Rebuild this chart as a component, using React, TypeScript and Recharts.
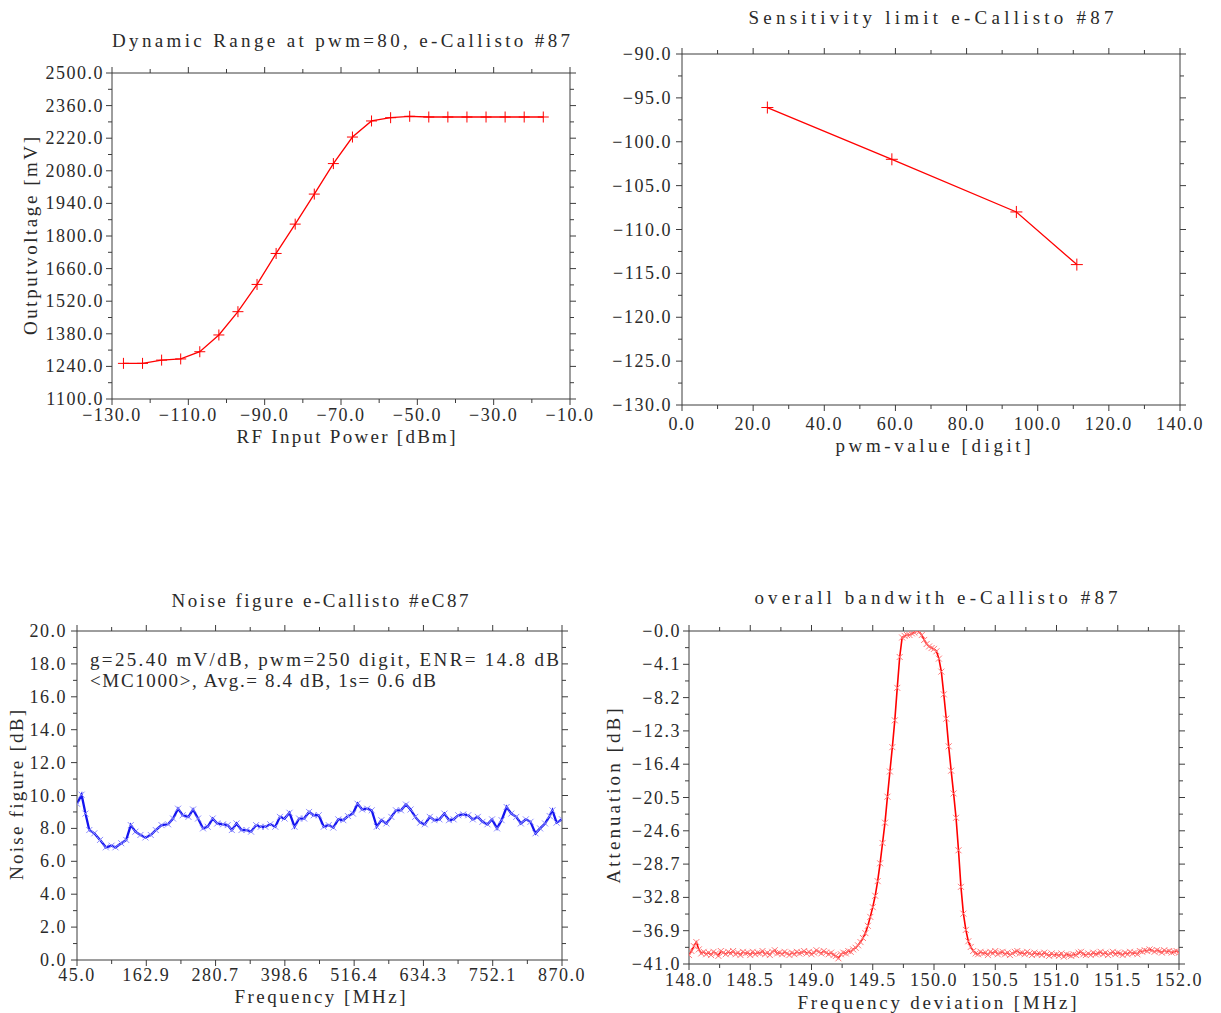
import React from 'react';
import { LineChart, Line, XAxis, YAxis } from 'recharts';

const FONT = '"Liberation Serif", "Times New Roman", serif';
const AXIS = '#3c3c3c';
const TXT = '#2a2a2a';

// ---------- Panel 1: Dynamic range ----------
const dynPower = [-127, -122, -117, -112, -107, -102, -97, -92, -87, -82, -77, -72, -67, -62, -57, -52, -47, -42, -37, -32, -27, -22, -17];
const dynVoltage = [1253, 1253, 1267, 1272, 1303, 1375, 1475, 1592, 1725, 1851, 1980, 2111, 2225, 2294, 2308, 2314, 2311, 2311, 2311, 2311, 2311, 2311, 2311];
const dynXTicks = [-130, -110, -90, -70, -50, -30, -10];
const dynXLabels = ['−130.0', '−110.0', '−90.0', '−70.0', '−50.0', '−30.0', '−10.0'];
const dynXMinor = [-120, -100, -80, -60, -40, -20];
const dynYTicks = [1100, 1240, 1380, 1520, 1660, 1800, 1940, 2080, 2220, 2360, 2500];
const dynYLabels = ['1100.0', '1240.0', '1380.0', '1520.0', '1660.0', '1800.0', '1940.0', '2080.0', '2220.0', '2360.0', '2500.0'];
const dynYMinor = [1170, 1310, 1450, 1590, 1730, 1870, 2010, 2150, 2290, 2430];

// ---------- Panel 2: Sensitivity ----------
const sensPwm = [24, 59, 94, 111];
const sensLimit = [-96.1, -102.0, -108.0, -114.0];
const sensXTicks = [0, 20, 40, 60, 80, 100, 120, 140];
const sensXLabels = ['0.0', '20.0', '40.0', '60.0', '80.0', '100.0', '120.0', '140.0'];
const sensXMinor = [10, 30, 50, 70, 90, 110, 130];
const sensYTicks = [-130, -125, -120, -115, -110, -105, -100, -95, -90];
const sensYLabels = ['−130.0', '−125.0', '−120.0', '−115.0', '−110.0', '−105.0', '−100.0', '−95.0', '−90.0'];
const sensYMinor = [-127.5, -122.5, -117.5, -112.5, -107.5, -102.5, -97.5, -92.5];

// ---------- Panel 3: Noise figure ----------
const nfFreq = [45.0, 52.8, 59.4, 65.9, 74.4, 84.2, 94.0, 103.8, 110.4, 120.2, 128.7, 136.5, 144.4, 152.9, 161.4, 170.5, 179.0, 188.8, 199.9, 208.4, 216.9, 224.8, 234.6, 242.4, 250.9, 259.4, 267.3, 275.8, 283.6, 293.4, 301.3, 308.4, 316.3, 324.8, 333.3, 341.1, 349.6, 357.5, 365.3, 373.8, 382.3, 390.2, 398.0, 406.5, 415.0, 422.8, 431.3, 439.8, 447.7, 456.2, 464.7, 473.2, 481.0, 489.5, 498.0, 505.9, 514.4, 522.2, 530.1, 538.6, 546.4, 554.9, 562.7, 571.2, 579.7, 587.6, 596.1, 604.6, 612.4, 620.3, 628.8, 636.6, 645.1, 653.0, 661.5, 670.0, 677.8, 685.6, 693.5, 702.0, 710.5, 718.3, 726.8, 734.7, 743.2, 751.0, 759.5, 767.3, 775.8, 783.7, 792.2, 800.0, 808.5, 816.4, 824.9, 832.7, 841.2, 849.1, 853.7, 860.8, 870.0];
const nfValue = [9.5, 10.05, 8.9, 7.9, 7.7, 7.3, 6.85, 6.95, 6.85, 7.1, 7.3, 8.2, 7.8, 7.6, 7.45, 7.6, 7.9, 8.2, 8.25, 8.6, 9.2, 8.8, 8.7, 9.15, 8.6, 8.0, 8.1, 8.6, 8.3, 8.25, 8.2, 7.9, 8.3, 7.9, 7.9, 7.8, 8.2, 8.1, 8.1, 8.25, 8.1, 8.7, 8.6, 8.95, 8.1, 8.6, 8.6, 9.0, 8.8, 8.8, 8.1, 8.2, 8.05, 8.55, 8.5, 8.75, 8.9, 9.5, 9.15, 9.2, 9.1, 8.1, 8.5, 8.3, 8.7, 9.1, 9.1, 9.45, 9.15, 8.7, 8.35, 8.25, 8.7, 8.5, 8.55, 8.9, 8.5, 8.55, 8.8, 8.85, 8.8, 8.55, 8.7, 8.4, 8.25, 8.55, 8.0, 8.5, 9.3, 8.9, 8.7, 8.3, 8.55, 8.4, 7.7, 8.0, 8.3, 8.75, 9.1, 8.35, 8.55];
const nfXTicks = [45, 162.857, 280.714, 398.571, 516.429, 634.286, 752.143, 870];
const nfXLabels = ['45.0', '162.9', '280.7', '398.6', '516.4', '634.3', '752.1', '870.0'];
const nfXMinor = [103.929, 221.786, 339.643, 457.5, 575.357, 693.214, 811.071];
const nfYTicks = [0, 2, 4, 6, 8, 10, 12, 14, 16, 18, 20];
const nfYLabels = ['0.0', '2.0', '4.0', '6.0', '8.0', '10.0', '12.0', '14.0', '16.0', '18.0', '20.0'];
const nfYMinor = [1, 3, 5, 7, 9, 11, 13, 15, 17, 19];

// ---------- Panel 4: Bandwidth ----------
const bwFreq = [
  148.00, 148.02, 148.04, 148.06, 148.08, 148.10, 148.12, 148.14, 148.16, 148.18,
  148.20, 148.22, 148.24, 148.26, 148.28, 148.30, 148.32, 148.34, 148.36, 148.38,
  148.40, 148.42, 148.44, 148.46, 148.48, 148.50, 148.52, 148.54, 148.56, 148.58,
  148.60, 148.62, 148.64, 148.66, 148.68, 148.70, 148.72, 148.74, 148.76, 148.78,
  148.80, 148.82, 148.84, 148.86, 148.88, 148.90, 148.92, 148.94, 148.96, 148.98,
  149.00, 149.02, 149.04, 149.06, 149.08, 149.10, 149.12, 149.14, 149.16, 149.18,
  149.20, 149.22, 149.24, 149.26, 149.28, 149.30, 149.32, 149.34, 149.36, 149.38,
  149.40, 149.42, 149.44, 149.46, 149.48, 149.50, 149.52, 149.54, 149.56, 149.58,
  149.60, 149.62, 149.64, 149.66, 149.68, 149.70, 149.72, 149.74, 149.76, 149.78,
  149.80, 149.82, 149.84, 149.86, 149.88, 149.90, 149.92, 149.94, 149.96, 149.98,
  150.00, 150.02, 150.04, 150.06, 150.08, 150.10, 150.12, 150.14, 150.16, 150.18,
  150.20, 150.22, 150.24, 150.26, 150.28, 150.30, 150.32, 150.34, 150.36, 150.38,
  150.40, 150.42, 150.44, 150.46, 150.48, 150.50, 150.52, 150.54, 150.56, 150.58,
  150.60, 150.62, 150.64, 150.66, 150.68, 150.70, 150.72, 150.74, 150.76, 150.78,
  150.80, 150.82, 150.84, 150.86, 150.88, 150.90, 150.92, 150.94, 150.96, 150.98,
  151.00, 151.02, 151.04, 151.06, 151.08, 151.10, 151.12, 151.14, 151.16, 151.18,
  151.20, 151.22, 151.24, 151.26, 151.28, 151.30, 151.32, 151.34, 151.36, 151.38,
  151.40, 151.42, 151.44, 151.46, 151.48, 151.50, 151.52, 151.54, 151.56, 151.58,
  151.60, 151.62, 151.64, 151.66, 151.68, 151.70, 151.72, 151.74, 151.76, 151.78,
  151.80, 151.82, 151.84, 151.86, 151.88, 151.90, 151.92, 151.94, 151.96, 151.98,
  152.00,
];
const bwAtten = [
  -39.9, -39.4, -38.8, -38.3, -39.2, -39.7, -39.5, -39.8, -39.6, -39.9,
  -39.5, -39.7, -40.0, -39.4, -39.6, -39.8, -39.5, -39.7, -39.4, -39.8,
  -39.6, -39.9, -39.5, -39.7, -39.6, -39.9, -39.5, -39.8, -39.6, -39.7,
  -39.4, -39.8, -39.6, -39.9, -39.5, -39.3, -39.7, -39.6, -39.8, -39.5,
  -39.7, -39.9, -39.6, -39.8, -39.5, -39.7, -39.6, -39.4, -39.7, -39.5,
  -39.8, -39.6, -39.3, -39.5, -39.7, -39.4, -39.6, -39.8, -39.6, -39.9,
  -40.0, -40.3, -39.8, -39.6, -39.7, -39.4, -39.5, -39.2, -39.0, -38.7,
  -38.3, -37.8, -37.2, -36.3, -35.2, -34.0, -32.6, -30.8, -28.6, -26.1,
  -23.6, -20.4, -17.3, -14.3, -11.0, -7.0, -3.2, -0.8, -0.6, -0.5,
  -0.5, -0.3, -0.2, -0.0, -0.1, -0.5, -1.1, -1.6, -1.9, -2.1,
  -2.2, -2.5, -3.4, -5.0, -7.8, -10.8, -14.2, -17.2, -20.0, -23.0,
  -27.0, -31.5, -34.8, -36.8, -38.2, -38.9, -39.4, -39.7, -39.8, -39.5,
  -39.7, -39.6, -39.9, -39.5, -39.7, -39.4, -39.8, -39.6, -39.5, -39.8,
  -39.6, -39.9, -39.7, -39.5, -39.4, -39.7, -39.6, -39.8, -39.5, -39.7,
  -39.9, -39.6, -39.8, -39.7, -39.9, -39.6, -39.8, -40.0, -39.7, -39.9,
  -39.8, -40.0, -39.7, -40.1, -39.8, -39.9, -40.0, -39.8, -39.9, -39.6,
  -39.5, -39.8, -39.9, -39.7, -39.9, -39.6, -39.8, -39.7, -39.5, -39.8,
  -39.6, -39.9, -39.7, -39.5, -39.8, -39.6, -39.7, -39.9, -39.6, -39.8,
  -39.5, -39.7, -39.6, -39.8, -39.4, -39.5, -39.3, -39.4, -39.2, -39.3,
  -39.5, -39.3, -39.4, -39.6, -39.3, -39.5, -39.4, -39.6, -39.5, -39.4,
  -39.6,
];
const bwXTicks = [148, 148.5, 149, 149.5, 150, 150.5, 151, 151.5, 152];
const bwXLabels = ['148.0', '148.5', '149.0', '149.5', '150.0', '150.5', '151.0', '151.5', '152.0'];
const bwXMinor = [148.25, 148.75, 149.25, 149.75, 150.25, 150.75, 151.25, 151.75];
const bwYTicks = [-41, -36.9, -32.8, -28.7, -24.6, -20.5, -16.4, -12.3, -8.2, -4.1, 0];
const bwYLabels = ['−41.0', '−36.9', '−32.8', '−28.7', '−24.6', '−20.5', '−16.4', '−12.3', '−8.2', '−4.1', '−0.0'];
const bwYMinor = [-38.95, -34.85, -30.75, -26.65, -22.55, -18.45, -14.35, -10.25, -6.15, -2.05];

// ---------- helpers ----------
type Side = 'bottom' | 'top' | 'left' | 'right';

function tickRenderer(side: Side, majors: number[], labels: string[] | null, gap: number) {
  return (props: any) => {
    const { x, y, payload } = props;
    const v = Number(payload.value);
    const idx = majors.findIndex((m) => Math.abs(m - v) < 1e-6);
    const major = idx >= 0;
    const len = major ? 6 : 4;
    let l: any = null;
    let t: any = null;
    const tStyle: any = { fontFamily: FONT, fontSize: 18, letterSpacing: 1.5, fill: TXT };
    if (side === 'bottom') {
      l = <line x1={x} y1={y} x2={x} y2={y + len} stroke={AXIS} strokeWidth={1} />;
      if (major && labels) t = <text x={x} y={y + gap} textAnchor="middle" style={tStyle}>{labels[idx]}</text>;
    } else if (side === 'top') {
      l = <line x1={x} y1={y} x2={x} y2={y - len} stroke={AXIS} strokeWidth={1} />;
    } else if (side === 'left') {
      l = <line x1={x - len} y1={y} x2={x} y2={y} stroke={AXIS} strokeWidth={1} />;
      if (major && labels) t = <text x={x - gap} y={y + 6} textAnchor="end" style={tStyle}>{labels[idx]}</text>;
    } else {
      l = <line x1={x} y1={y} x2={x + len} y2={y} stroke={AXIS} strokeWidth={1} />;
    }
    return (
      <g>
        {l}
        {t}
      </g>
    );
  };
}

const plusDot = (color: string, s: number) => (p: any) => {
  if (p.cx == null || p.cy == null) return <g key={p.key ?? p.index} />;
  return (
    <path
      key={p.key ?? `p${p.index}`}
      d={`M${p.cx - s},${p.cy}H${p.cx + s}M${p.cx},${p.cy - s}V${p.cy + s}`}
      stroke={color}
      strokeWidth={1}
      fill="none"
    />
  );
};

const crossDot = (color: string, s: number) => (p: any) => {
  if (p.cx == null || p.cy == null) return <g key={p.key ?? p.index} />;
  return (
    <path
      key={p.key ?? `c${p.index}`}
      d={`M${p.cx - s},${p.cy - s}L${p.cx + s},${p.cy + s}M${p.cx - s},${p.cy + s}L${p.cx + s},${p.cy - s}`}
      stroke={color}
      strokeWidth={1}
      fill="none"
    />
  );
};

type PanelProps = {
  left: number;
  top: number;
  width: number;
  height: number;
  margin: { top: number; left: number; right: number; bottom: number };
  data: { x: number; y: number }[];
  xDomain: [number, number];
  yDomain: [number, number];
  xMajor: number[];
  xMinor: number[];
  xLabels: string[];
  yMajor: number[];
  yMinor: number[];
  yLabels: string[];
  xGap: number;
  yGap: number;
  lineColor: string;
  lineWidth: number;
  dotRenderer: any;
  dotsUnder?: boolean;
};

// Axes are given a 1px thickness (Recharts skips zero-sized axes), so margins are reduced by 1.
function Panel(p: PanelProps) {
  const xt = [...p.xMajor, ...p.xMinor].sort((a, b) => a - b);
  const yt = [...p.yMajor, ...p.yMinor].sort((a, b) => a - b);
  const common = { type: 'number' as const, allowDataOverflow: true, interval: 0 as const, tickLine: false, tickSize: 0, tickMargin: 0, axisLine: { stroke: AXIS, strokeWidth: 1 } };
  const m = { top: p.margin.top - 1, left: p.margin.left - 1, right: p.margin.right - 1, bottom: p.margin.bottom - 1 };
  return (
    <div style={{ position: 'absolute', left: p.left, top: p.top, width: p.width, height: p.height }}>
      <LineChart width={p.width} height={p.height} data={p.data} margin={m} style={{ overflow: 'visible' }}>
        <XAxis xAxisId="b" orientation="bottom" dataKey="x" domain={p.xDomain} ticks={xt} height={1} tick={tickRenderer('bottom', p.xMajor, p.xLabels, p.xGap)} {...common} />
        <XAxis xAxisId="t" orientation="top" dataKey="x" domain={p.xDomain} ticks={xt} height={1} tick={tickRenderer('top', p.xMajor, null, 0)} {...common} />
        <YAxis yAxisId="l" orientation="left" dataKey="y" domain={p.yDomain} ticks={yt} width={1} tick={tickRenderer('left', p.yMajor, p.yLabels, p.yGap)} {...common} />
        <YAxis yAxisId="r" orientation="right" dataKey="y" domain={p.yDomain} ticks={yt} width={1} tick={tickRenderer('right', p.yMajor, null, 0)} {...common} />
        <Line xAxisId="t" yAxisId="r" dataKey="y" stroke="none" dot={false} activeDot={false} isAnimationActive={false} />
        {p.dotsUnder ? (
          <Line xAxisId="b" yAxisId="l" dataKey="y" type="linear" stroke="none" dot={p.dotRenderer} activeDot={false} isAnimationActive={false} />
        ) : null}
        <Line
          xAxisId="b"
          yAxisId="l"
          dataKey="y"
          type="linear"
          stroke={p.lineColor}
          strokeWidth={p.lineWidth}
          dot={p.dotsUnder ? false : p.dotRenderer}
          activeDot={false}
          isAnimationActive={false}
        />
      </LineChart>
    </div>
  );
}

function Txt(props: { x: number; y: number; w: number; children: string; rotate?: boolean; anchor?: string; size?: number }) {
  const size = props.size ?? 19;
  const style: any = { fontFamily: FONT, fontSize: size, fill: TXT };
  if (props.rotate) {
    return (
      <text transform={`translate(${props.x},${props.y}) rotate(-90)`} x={0} y={6} textAnchor="middle" textLength={props.w} lengthAdjust="spacing" style={style}>
        {props.children}
      </text>
    );
  }
  return (
    <text x={props.x} y={props.y + 6} textAnchor={(props.anchor as any) ?? 'middle'} textLength={props.w} lengthAdjust="spacing" style={style}>
      {props.children}
    </text>
  );
}

export default function App() {
  const dynData = dynPower.map((x, i) => ({ x, y: dynVoltage[i] }));
  const sensData = sensPwm.map((x, i) => ({ x, y: sensLimit[i] }));
  const nfData = nfFreq.map((x, i) => ({ x, y: nfValue[i] }));
  const bwData = bwFreq.map((x, i) => ({ x, y: bwAtten[i] }));

  return (
    <div style={{ position: 'absolute', left: 0, top: 0, width: 1221, height: 1013, background: '#fff', overflow: 'hidden' }}>
      <Panel
        left={0} top={0} width={600} height={460}
        margin={{ top: 73, left: 112, right: 30, bottom: 61 }}
        data={dynData} xDomain={[-130, -10]} yDomain={[1100, 2500]}
        xMajor={dynXTicks} xMinor={dynXMinor} xLabels={dynXLabels}
        yMajor={dynYTicks} yMinor={dynYMinor} yLabels={dynYLabels}
        xGap={22} yGap={8}
        lineColor="#ff0000" lineWidth={1.3} dotRenderer={plusDot('#ff0000', 5.5)}
      />
      <Panel
        left={600} top={0} width={621} height={460}
        margin={{ top: 54, left: 82, right: 41, bottom: 55 }}
        data={sensData} xDomain={[0, 140]} yDomain={[-130, -90]}
        xMajor={sensXTicks} xMinor={sensXMinor} xLabels={sensXLabels}
        yMajor={sensYTicks} yMinor={sensYMinor} yLabels={sensYLabels}
        xGap={25} yGap={10}
        lineColor="#ff0000" lineWidth={1.3} dotRenderer={plusDot('#ff0000', 6)}
      />
      <Panel
        left={0} top={470} width={600} height={543}
        margin={{ top: 161, left: 77, right: 38, bottom: 53 }}
        data={nfData} xDomain={[45, 870]} yDomain={[0, 20]}
        xMajor={nfXTicks} xMinor={nfXMinor} xLabels={nfXLabels}
        yMajor={nfYTicks} yMinor={nfYMinor} yLabels={nfYLabels}
        xGap={21} yGap={10}
        lineColor="#1414f0" lineWidth={2.3} dotRenderer={crossDot('#8c8cff', 3)} dotsUnder
      />
      <Panel
        left={600} top={470} width={621} height={543}
        margin={{ top: 161, left: 89, right: 42, bottom: 49 }}
        data={bwData} xDomain={[148, 152]} yDomain={[-41, 0]}
        xMajor={bwXTicks} xMinor={bwXMinor} xLabels={bwXLabels}
        yMajor={bwYTicks} yMinor={bwYMinor} yLabels={bwYLabels}
        xGap={22} yGap={8}
        lineColor="#ff0000" lineWidth={1.6} dotRenderer={crossDot('#ff7a7a', 3)} dotsUnder
      />
      <svg width={1221} height={1013} style={{ position: 'absolute', left: 0, top: 0, pointerEvents: 'none' }}>
        <Txt x={341} y={41} w={458}>Dynamic Range at pwm=80, e-Callisto #87</Txt>
        <Txt x={346} y={437} w={219}>RF Input Power [dBm]</Txt>
        <Txt x={31} y={236} w={198} rotate>Outputvoltage [mV]</Txt>

        <Txt x={931} y={18} w={365}>Sensitivity limit e-Callisto #87</Txt>
        <Txt x={933} y={446} w={195}>pwm-value [digit]</Txt>

        <Txt x={320} y={601} w={297}>Noise figure e-Callisto #eC87</Txt>
        <Txt x={320} y={997} w={171}>Frequency [MHz]</Txt>
        <Txt x={17} y={795} w={170} rotate>Noise figure [dB]</Txt>
        <Txt x={90} y={660} w={469} anchor="start">g=25.40 mV/dB, pwm=250 digit, ENR= 14.8 dB</Txt>
        <Txt x={90} y={681} w={346} anchor="start">{'<MC1000>, Avg.= 8.4 dB, 1s= 0.6 dB'}</Txt>

        <Txt x={936} y={598} w={363}>overall bandwith e-Callisto #87</Txt>
        <Txt x={937} y={1003} w={279}>Frequency deviation [MHz]</Txt>
        <Txt x={614} y={796} w={175} rotate>Attenuation [dB]</Txt>
      </svg>
    </div>
  );
}
